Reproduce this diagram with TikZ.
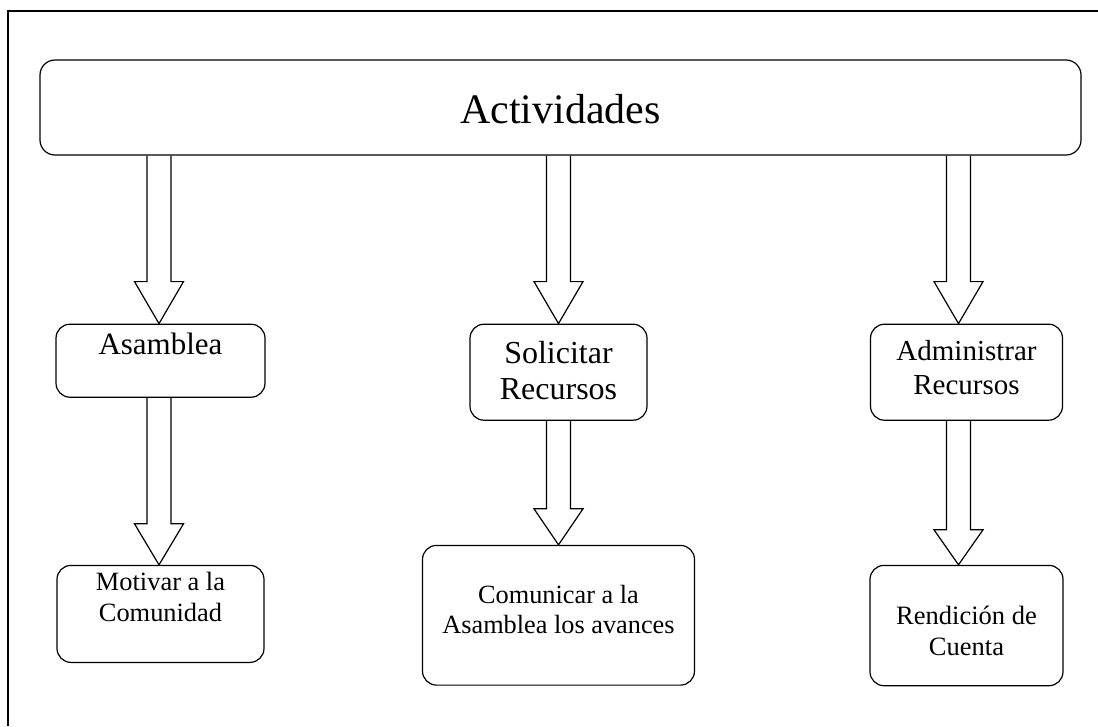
\documentclass[tikz,border=0pt]{standalone}
\usepackage{fontspec}
\setmainfont{Liberation Serif}
\usepackage{tikz}
\usetikzlibrary{positioning,calc}

\tikzset{
	caja/.style = {draw, line width=1.2pt, rounded corners=14pt, align=center, inner sep=0pt},
	flechabloque/.style = {draw, line width=1.2pt, line join=miter},
	marco/.style = {draw, line width=1.2pt}
}

% flecha de bloque: desde, hasta, desplazamiento x, largo de la punta
\newcommand{\flecha}[4]{%
	\draw[flechabloque] ($(#1.south -| #2.north)+(#3-12,0)$) -- ($(#2.north)+(#3-12,#4)$)
		-- ($(#2.north)+(#3-24.5,#4)$) -- ($(#2.north)+(#3,0)$) -- ($(#2.north)+(#3+24.5,#4)$)
		-- ($(#2.north)+(#3+12,#4)$) -- ($(#1.south -| #2.north)+(#3+12,0)$);
}

\begin{document}
\begin{tikzpicture}[x=1pt, y=1pt]
	\useasboundingbox (0,0) rectangle (1098,-726);
	\draw[marco] (1098,-11) -- (8,-11) -- (8,-726);

	\node[caja, rounded corners=15pt, minimum width=1041pt, text height=63.3pt, text depth=31.7pt, font=\fontsize{42}{48}\selectfont] (act) at (560.5,-107.5) {Actividades};

	\node[caja, below = 168pt of act, xshift = -400pt, minimum width=209pt, text height=30pt, text depth=43pt, font=\fontsize{31}{36}\selectfont] (asam) {Asamblea};
	\node[caja, below = 168pt of act, xshift = -2pt, minimum width=177pt, text height=75.7pt, text depth=20.3pt, font=\fontsize{32}{36}\selectfont] (solic) {Solicitar\\Recursos};
	\node[caja, below = 168pt of act, xshift = 406pt, minimum width=192pt, text height=70.7pt, text depth=25.3pt, font=\fontsize{29}{34}\selectfont] (adm) {Administrar\\Recursos};

	\node[caja, below = 167pt of asam, minimum width=207pt, text height=56pt, text depth=41pt, font=\fontsize{26.4}{31}\selectfont] (motiv) {Motivar a la\\Comunidad};
	\node[caja, below = 124pt of solic, minimum width=272pt, text height=88.4pt, text depth=51.3pt, font=\fontsize{26.3}{30}\selectfont] (comun) {Comunicar a la\\Asamblea los avances};
	\node[caja, below = 144pt of adm, minimum width=193pt, text height=90pt, text depth=30.3pt, font=\fontsize{26.5}{31}\selectfont] (rend) {Rendición de\\Cuenta};

	%flechas
	\flecha{act}{asam}{-1.5}{42}
	\flecha{act}{solic}{0}{42}
	\flecha{act}{adm}{-8}{42}
	\flecha{asam}{motiv}{-1.5}{41}
	\flecha{solic}{comun}{0}{36}
	\flecha{adm}{rend}{-8}{35}
\end{tikzpicture}
\end{document}
